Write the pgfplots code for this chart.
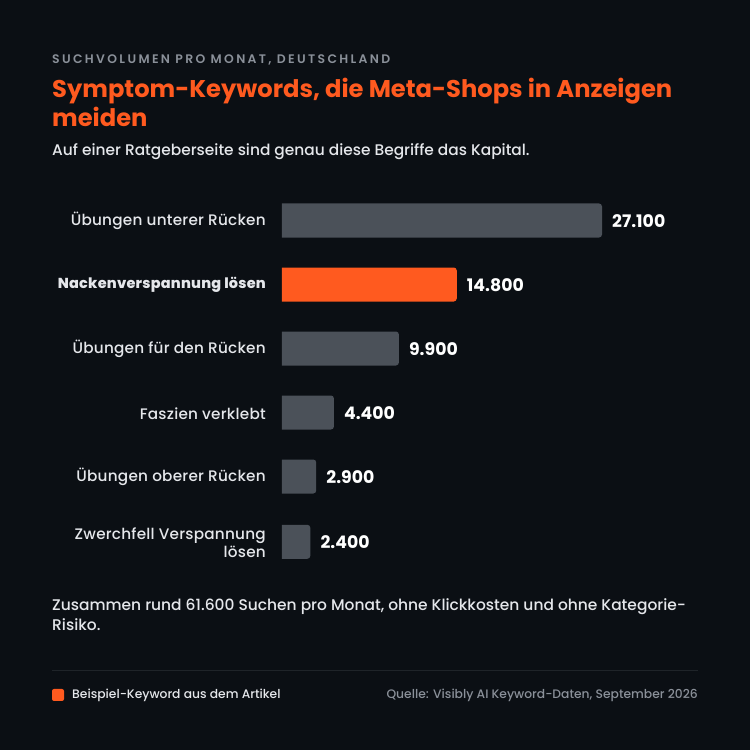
\documentclass[border=0pt]{standalone}
\usepackage{pgfplots}
\usepackage{fontspec}
\pgfplotsset{compat=1.18}
\setmainfont{Poppins}
\newfontfamily\med{Poppins Medium}
\newfontfamily\semi{Poppins SemiBold}
\newfontfamily\medw[LetterSpace=1.5]{Poppins Medium}
\definecolor{bg}{HTML}{0B0F14}
\definecolor{orange1}{HTML}{FF5A1F}
\definecolor{bar1}{HTML}{4B5159}
\definecolor{lab}{HTML}{E5E7EB}
\definecolor{mut}{HTML}{8A9099}
\definecolor{rule1}{HTML}{1F2429}
\makeatletter
\newdimen\rbX \newdimen\rbY \newdimen\rbB
\pgfdeclareplothandler{\roundbarhandler}{}{
  point={%
    \pgf@process{##1}\rbX=\pgf@x \rbY=\pgf@y
    \pgf@process{\pgfplotspointaxisxy{0}{0}}\rbB=\pgf@x
    \pgfsetcornersarced{\pgfpointorigin}%
    \pgfpathmoveto{\pgfqpoint{\rbB}{\dimexpr\rbY+17pt\relax}}%
    \pgfsetcornersarced{\pgfqpoint{3pt}{3pt}}%
    \pgfpathlineto{\pgfqpoint{\rbX}{\dimexpr\rbY+17pt\relax}}%
    \pgfpathlineto{\pgfqpoint{\rbX}{\dimexpr\rbY-17pt\relax}}%
    \pgfsetcornersarced{\pgfpointorigin}%
    \pgfpathlineto{\pgfqpoint{\rbB}{\dimexpr\rbY-17pt\relax}}%
    \pgfpathlineto{\pgfqpoint{\rbB}{\dimexpr\rbY+17pt\relax}}%
    \pgfpathclose
  }
}
\tikzset{roundbar/.code={\let\tikz@plot@handler=\roundbarhandler}}
\makeatother
\begin{document}
\begin{tikzpicture}[x=1pt,y=1pt]
\fill[bg] (0,0) rectangle (750,750);
\useasboundingbox (0,0) rectangle (750,750);
\def\T#1#2#3{\node[anchor=base west,inner sep=0pt] at (#1,750-#2) {#3};}
\T{52}{64}{\color{mut}\fontsize{12.4}{14}\semi\addfontfeatures{LetterSpace=19}SUCHVOLUMEN PRO MONAT, DEUTSCHLAND}
\T{52}{97.5}{\color{orange1}\fontsize{24.2}{28}\bfseries Symptom-Keywords, die Meta-Shops in Anzeigen}
\T{52}{126.5}{\color{orange1}\fontsize{24.2}{28}\bfseries meiden}
\T{52}{155.5}{\color{lab}\fontsize{15.4}{18}\med Auf einer Ratgeberseite sind genau diese Begriffe das Kapital.}
\begin{axis}[
  scale only axis, width=320pt, height=384pt,
  at={(282pt,561.5pt)}, anchor=north west,
  xmin=0, xmax=27100, ymin=-0.5, ymax=5.5, y dir=reverse,
  axis line style={draw=none}, major tick length=0pt,
  xtick=\empty,
  ytick={0,1,2,3,4,5.02},
  yticklabels={{\"Ubungen unterer R\"ucken},{\bfseries\fontsize{14.45}{18}\selectfont Nackenverspannung l\"osen},{\"Ubungen f\"ur den R\"ucken},{Faszien verklebt},{\"Ubungen oberer R\"ucken},{Zwerchfell Verspannung\\l\"osen}},
  yticklabel style={align=right,text=lab,font=\fontsize{15.25}{18}\medw,inner sep=0pt,/pgf/number format/assume math mode=true},
  y tick label style={xshift=-16pt,yshift=-0.7pt},
  clip=false,
  xbar, bar width=34pt, bar shift=0pt,
  nodes near coords, point meta=x,
  nodes near coords align={horizontal},
  every node near coord/.append style={text=white,font=\fontsize{17.3}{20}\bfseries,inner sep=0pt,xshift=10pt,yshift=-0.7pt,/pgf/number format/assume math mode=true,/pgf/number format/1000 sep={.}},
]
\addplot[roundbar,fill=bar1,draw=none] coordinates {(27100,0) (9900,2) (4400,3) (2900,4) (2400,5.02)};
\addplot[roundbar,fill=orange1,draw=none] coordinates {(14800,1)};
\end{axis}
\T{52}{611}{\color{lab}\fontsize{15.45}{18}\med Zusammen rund 61.600 Suchen pro Monat, ohne Klickkosten und ohne Kategorie-}
\T{52}{631}{\color{lab}\fontsize{15.45}{18}\med Risiko.}
\draw[rule1,line width=1pt] (52,79.5) -- (698,79.5);
\fill[orange1,rounded corners=2pt] (52,49) rectangle (64,61);
\T{72}{699}{\color{lab}\fontsize{12.3}{14}\med Beispiel-Keyword aus dem Artikel}
\node[anchor=base east,inner sep=0pt] at (698,51) {\color{mut}\fontsize{12.3}{14}\med Quelle: Visibly AI Keyword-Daten, September 2026};
\end{tikzpicture}
\end{document}
